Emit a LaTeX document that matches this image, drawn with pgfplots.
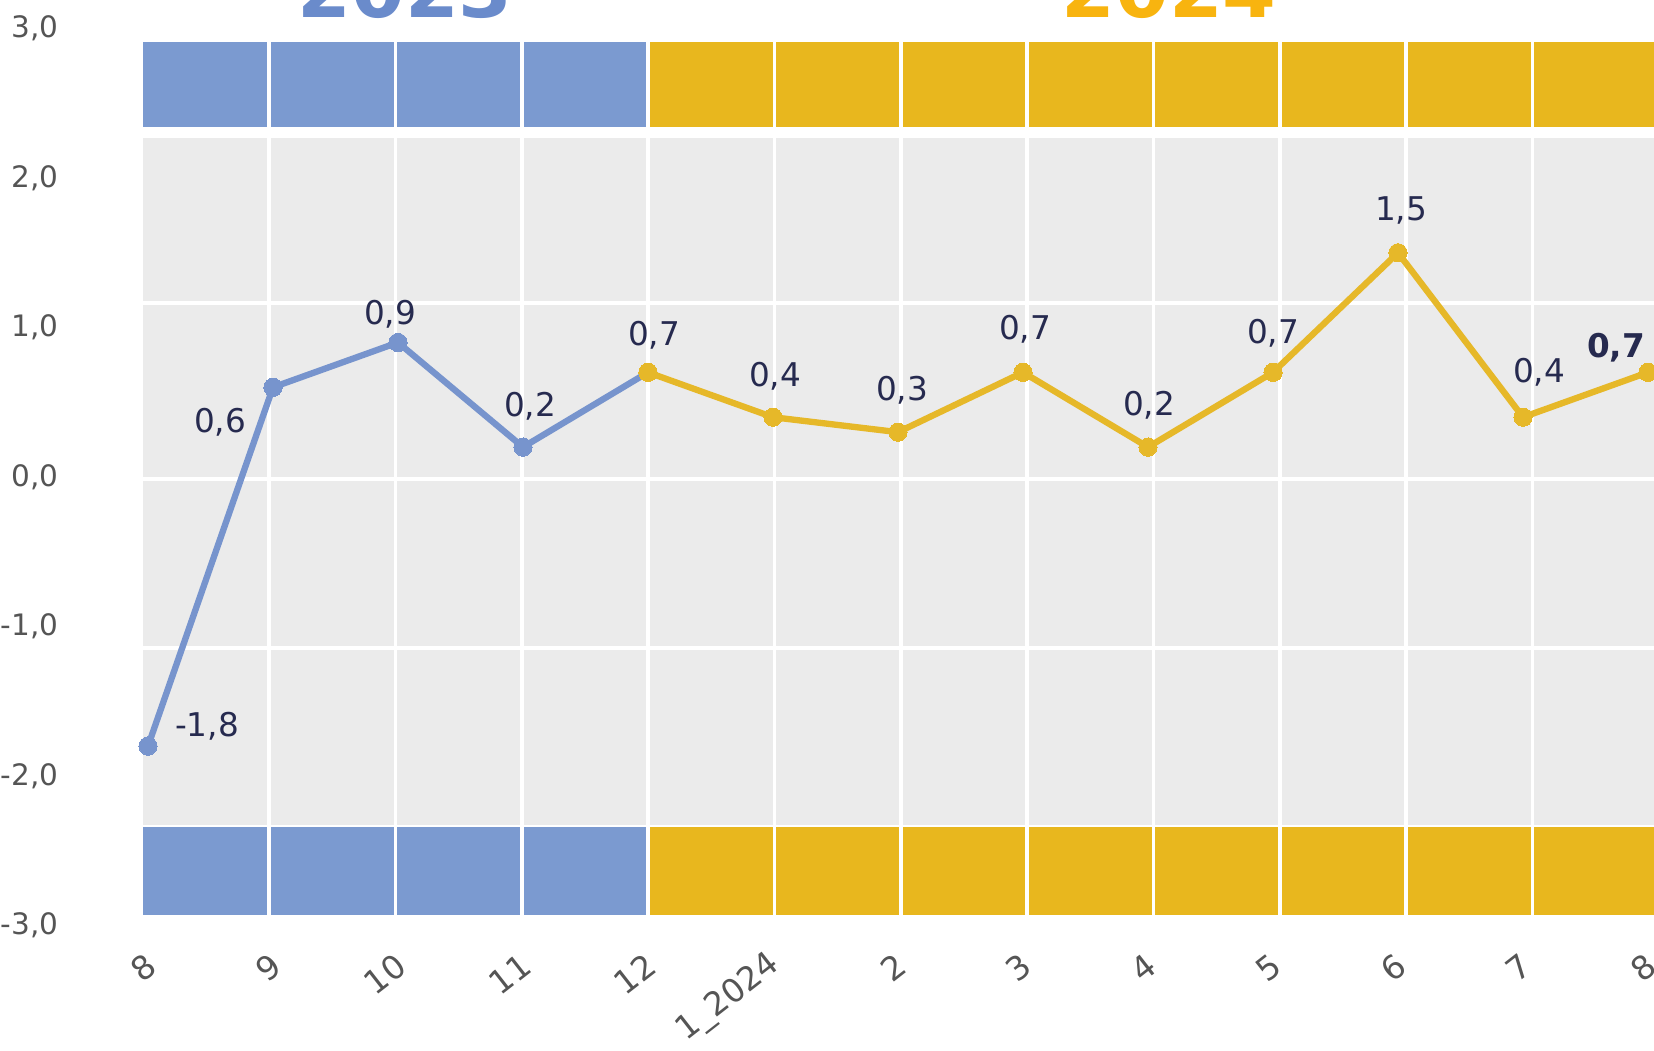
\documentclass[border=0pt]{standalone}
\usepackage{pgfplots}
\pgfplotsset{compat=1.18}
\usepackage{pgfplotstable}
\usepackage{fontspec}
\setmainfont{DejaVu Sans}
\definecolor{panel}{HTML}{EBEBEB}
\definecolor{bandblue}{HTML}{7B9AD0}
\definecolor{bandyel}{HTML}{E8B71E}
\definecolor{lineblue}{HTML}{7794CD}
\definecolor{lineyel}{HTML}{E6B829}
\definecolor{tblue}{HTML}{6A8BCB}
\definecolor{tyel}{HTML}{F8B40F}
\definecolor{lblc}{HTML}{262A4F}
\definecolor{tickc}{HTML}{555555}

\pgfplotstableread{
x y lbl dx dy
0 -1.8 -1,8 59 20
1 0.6 0,6 -53 -35
2 0.9 0,9 -8 28
3 0.2 0,2 7 41
4 0.7 {} 0 0
}\bluedata

\pgfplotstableread{
x y lbl dx dy
4 0.7 0,7 6 37
5 0.4 0,4 2 41
6 0.3 0,3 4 42
7 0.7 0,7 2 43
8 0.2 0,2 1 42
9 0.7 0,7 0 39
10 1.5 1,5 3 42
11 0.4 0,4 16 45
12 0.7 \textbf{0,7} -32 25
}\yeldata

\begin{document}
\begin{tikzpicture}
\begin{axis}[
  at={(1.43cm,1.245cm)}, anchor=south west,
  scale only axis, width=15.11cm, height=8.97cm,
  xmin=-0.04, xmax=12.048, ymin=-3, ymax=3,
  clip=false,
  axis line style={draw=none},
  major tick length=0pt,
  xtick={0,...,12},
  xticklabels={8,9,10,11,12,1\_2024,2,3,4,5,6,7,8},
  ytick={-3,-2,-1,0,1,2,3},
  yticklabels={{-3,0},{-2,0},{-1,0},{0,0},{1,0},{2,0},{3,0}},
  xticklabel style={xshift=0.13cm, yshift=-0.28cm, rotate=38, anchor=east,
    font=\fontsize{9.3}{11}\selectfont, text=tickc},
  yticklabel style={xshift=-0.72cm, anchor=east,
    font=\fontsize{8.4}{10}\selectfont, text=tickc},
  nodes near coords, point meta=explicit symbolic,
  visualization depends on={\thisrow{dx}\as\dx},
  visualization depends on={\thisrow{dy}\as\dy},
  nodes near coords style={xshift=\dx*0.01cm, yshift=\dy*0.01cm, anchor=center,
    font=\fontsize{9.3}{11}\selectfont, text=lblc},
]
% background panel and bands
\fill[panel] (axis cs:-0.04,-2.33) rectangle (axis cs:12.2,2.27);
\fill[bandblue] (axis cs:-0.04,2.34) rectangle (axis cs:4.002,2.91);
\fill[bandyel] (axis cs:4.002,2.34) rectangle (axis cs:12.2,2.91);
\fill[bandblue] (axis cs:-0.04,-2.93) rectangle (axis cs:4.002,-2.34);
\fill[bandyel] (axis cs:4.002,-2.93) rectangle (axis cs:12.2,-2.34);
\pgfplotsinvokeforeach{1.164,-0.013,-1.144}{
  \draw[white, line width=1pt] (axis cs:-0.04,#1) -- (axis cs:12.2,#1);
}
\pgfplotsinvokeforeach{0.970,1.981,2.991,4.002,5.012,6.022,7.033,8.043,9.054,10.064,11.074}{
  \draw[white, line width=1pt] (axis cs:#1,-2.93) -- (axis cs:#1,2.91);
}
\addplot[lineblue, line width=1.8pt, line join=round, mark=*, mark size=2.6pt,
  mark options={fill=lineblue, draw=lineblue, line width=0pt}]
  table[x=x, y=y, meta=lbl] {\bluedata};
\addplot[lineyel, line width=1.8pt, line join=round, mark=*, mark size=2.6pt,
  mark options={fill=lineyel, draw=lineyel, line width=0pt}]
  table[x=x, y=y, meta=lbl] {\yeldata};
\node[anchor=base, font=\fontsize{22}{26}\selectfont\bfseries, text=tblue]
  at (axis cs:2.056,3.077) {2023};
\node[anchor=base, font=\fontsize{22}{26}\selectfont\bfseries, text=tyel]
  at (axis cs:8.168,3.077) {2024};
\end{axis}
\pgfresetboundingbox
\useasboundingbox (0,0) rectangle (16.54,10.5);
\end{tikzpicture}
\end{document}
